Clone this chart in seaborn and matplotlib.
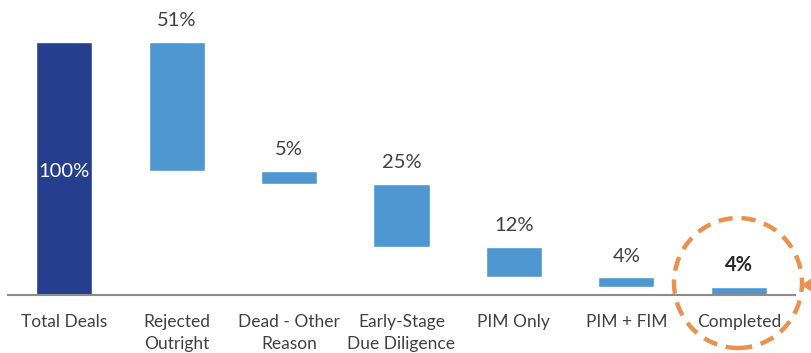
import numpy as np
import matplotlib
matplotlib.use('Agg')
import matplotlib.pyplot as plt
import seaborn as sns
from matplotlib.patches import Ellipse, Polygon

# stages of the deal funnel
stages = ['Total Deals', 'Rejected\nOutright', 'Dead - Other\nReason',
          'Early-Stage\nDue Diligence', 'PIM Only', 'PIM + FIM', 'Completed']
total = 100
drops = [51, 5, 25, 12, 4]
completed = 3
pct_labels = ['100%', '51%', '5%', '25%', '12%', '4%', '4%']

# waterfall geometry
heights = [total] + drops + [completed]
bottoms = [0]
remaining = total
for d in drops:
    remaining -= d
    bottoms.append(remaining)
bottoms.append(0)

navy = '#253F8E'
light = '#4F97D1'
orange = '#E9914F'

sns.set_style('white')
plt.rcParams['font.family'] = ['Lato', 'DejaVu Sans']

fig = plt.figure(figsize=(8.12, 3.53), dpi=100)
ax = fig.add_axes([8 / 812, 58 / 353, 787 / 812, 291 / 353])

sns.barplot(x=stages, y=heights, bottom=bottoms, color=light,
            width=0.5, saturation=1, ax=ax)
ax.patches[0].set_facecolor(navy)

ax.set_ylim(0, 115)
ax.set_xlim(-0.5, 6.5)
ax.set_yticks([])
for s in ['top', 'right', 'left']:
    ax.spines[s].set_visible(False)
ax.spines['bottom'].set_color('#8c8c8c')
ax.spines['bottom'].set_linewidth(1.5)
ax.tick_params(axis='x', length=0, pad=14, labelsize=12.5, colors='#404040')
for t in ax.get_xticklabels():
    t.set_linespacing(1.4)

# value labels
for i, (lab, h, b) in enumerate(zip(pct_labels, heights, bottoms)):
    if i == 0:
        ax.text(i, 49, lab, ha='center', va='center', color='white', fontsize=14.5)
    elif i == len(stages) - 1:
        ax.text(i, b + h + 5, lab, ha='center', va='bottom', color='#262626',
                fontsize=14.5, fontweight='bold')
    else:
        ax.text(i, b + h + 5, lab, ha='center', va='bottom', color='#404040',
                fontsize=14.5)

# highlight circle around the last stage
circ = Ellipse((738 / 812, 1 - 283 / 353), 128 / 812, 130 / 353,
               transform=fig.transFigure, fill=False, edgecolor=orange,
               linewidth=3.2, linestyle=(0, (3.2, 2)), clip_on=False)
fig.patches.append(circ)
arrow = Polygon([(801 / 812, 1 - 285 / 353), (812 / 812, 1 - 278 / 353),
                 (812 / 812, 1 - 292 / 353)], closed=True,
                transform=fig.transFigure, facecolor=orange, edgecolor='none')
fig.patches.append(arrow)

plt.savefig('out.png', dpi=100)
